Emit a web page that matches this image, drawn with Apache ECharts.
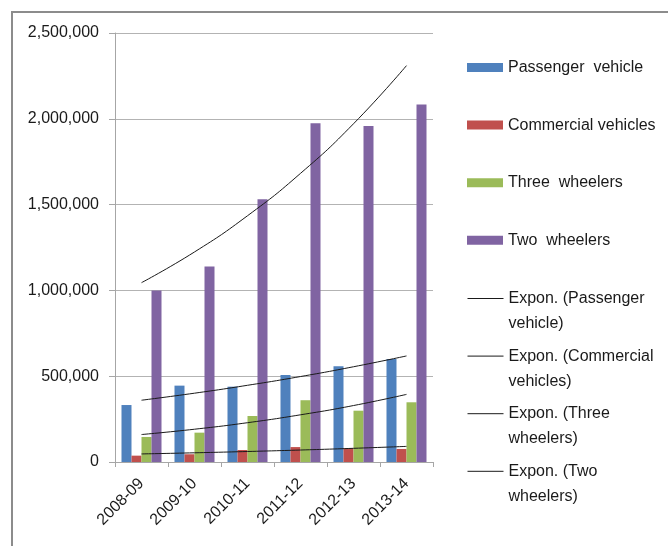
<!DOCTYPE html>
<html>
<head>
<meta charset="utf-8">
<script src="https://cdn.jsdelivr.net/npm/echarts@6/dist/echarts.min.js"></script>
<style>
  html, body { margin: 0; padding: 0; background: #fff; }
  #chart { width: 668px; height: 546px; }
</style>
</head>
<body>
<div id="chart"></div>
<script>
// Vehicle sales by segment, 2008-09 to 2013-14
const years = ['2008-09', '2009-10', '2010-11', '2011-12', '2012-13', '2013-14'];
const passenger = [332000, 445000, 439000, 507000, 558000, 600000];
const commercial = [37000, 45000, 70000, 87000, 80000, 76000];
const threeWheelers = [146000, 171000, 268000, 360000, 299000, 348000];
const twoWheelers = [1000000, 1140000, 1531000, 1974000, 1958000, 2084000];

// Exponential trend values at each year
const trendPassenger = [360000, 401000, 447000, 498000, 555000, 618000];
const trendCommercial = [47000, 53600, 61200, 69800, 79700, 91000];
const trendThree = [160000, 191000, 229000, 275000, 329000, 394000];
const trendTwo = [1045000, 1224000, 1435000, 1682000, 1971000, 2310000];

const yTicks = { min: 0, max: 2500000, step: 500000 };

const barNames = ['Passenger  vehicle', 'Commercial vehicles', 'Three  wheelers', 'Two  wheelers'];
const trendNames = ['Expon. (Passenger vehicle)', 'Expon. (Commercial vehicles)', 'Expon. (Three wheelers)', 'Expon. (Two wheelers)'];
const trendLabels = ['Expon. (Passenger\nvehicle)', 'Expon. (Commercial\nvehicles)', 'Expon. (Three\nwheelers)', 'Expon. (Two\nwheelers)'];

const barColors = ['#4F81BD', '#C0504D', '#9BBB59', '#8064A2'];
const barData = [passenger, commercial, threeWheelers, twoWheelers];
const trendData = [trendPassenger, trendCommercial, trendThree, trendTwo];

const font = 'Liberation Sans, Arial, sans-serif';

const chart = echarts.init(document.getElementById('chart'), null, { renderer: 'canvas' });

const series = [];
barNames.forEach((name, i) => {
  series.push({
    name: name,
    type: 'bar',
    data: barData[i],
    barGap: '0%',
    barCategoryGap: '24.5%',
    itemStyle: { color: barColors[i] },
    animation: false
  });
});
trendNames.forEach((name, i) => {
  series.push({
    name: name,
    type: 'line',
    data: trendData[i],
    smooth: true,
    symbol: 'none',
    showSymbol: false,
    lineStyle: { color: '#1a1a1a', width: 1 },
    itemStyle: { color: '#1a1a1a' },
    z: 5,
    animation: false
  });
});

chart.setOption({
  animation: false,
  backgroundColor: '#fff',
  textStyle: { fontFamily: font },
  grid: { left: 115, right: 235, top: 33, bottom: 84, containLabel: false },
  legend: [
    {
      data: barNames.map(n => ({ name: n, icon: 'rect' })),
      orient: 'vertical',
      left: 462,
      top: 52.5,
      itemWidth: 36,
      itemHeight: 9,
      itemGap: 37.6,
      selectedMode: false,
      textStyle: { fontFamily: font, fontSize: 16, color: '#1a1a1a', lineHeight: 20 }
    },
    {
      data: trendNames,
      orient: 'vertical',
      left: 462,
      top: 256,
      itemWidth: 36,
      itemHeight: 9,
      itemGap: -17.4,
      selectedMode: false,
      // key shows only the line, no marker
      itemStyle: { color: 'rgba(0,0,0,0)', borderWidth: 0 },
      lineStyle: { color: '#1a1a1a', width: 1 },
      // a leading blank line keeps the first text line level with the key line
      formatter: name => '\u00a0\n' + trendLabels[trendNames.indexOf(name)],
      textStyle: { fontFamily: font, fontSize: 16, color: '#1a1a1a', lineHeight: 25 }
    }
  ],
  xAxis: {
    type: 'category',
    data: years,
    boundaryGap: true,
    axisLine: { lineStyle: { color: '#a6a6a6', width: 1 } },
    axisTick: { show: true, length: 5, alignWithLabel: false, lineStyle: { color: '#a6a6a6' } },
    axisLabel: { interval: 0, rotate: 45, fontSize: 16, color: '#1a1a1a', margin: 19, fontFamily: font }
  },
  yAxis: {
    type: 'value',
    min: yTicks.min,
    max: yTicks.max,
    interval: yTicks.step,
    axisLine: { show: true, lineStyle: { color: '#a6a6a6', width: 1 } },
    axisTick: { show: true, length: 6, inside: false, lineStyle: { color: '#a6a6a6' } },
    axisLabel: {
      fontSize: 16,
      color: '#1a1a1a',
      margin: 16,
      fontFamily: font,
      formatter: v => v.toLocaleString('en-US')
    },
    splitLine: { show: true, lineStyle: { color: '#b3b3b3', width: 1 } }
  },
  graphic: [
    {
      type: 'polyline',
      shape: { points: [[12, 546], [12, 12], [668, 12]] },
      style: { stroke: '#8c8c8c', lineWidth: 2, fill: null },
      silent: true
    }
  ],
  series: series
});
</script>
</body>
</html>
